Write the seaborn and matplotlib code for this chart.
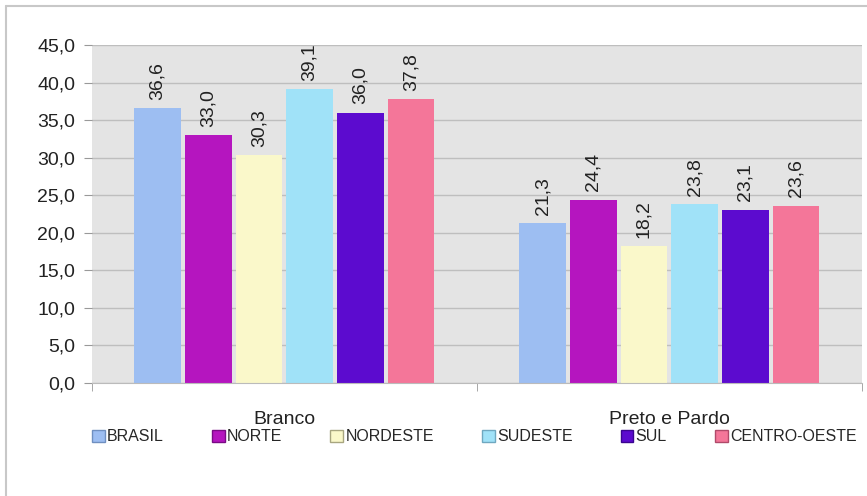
import pandas as pd
import matplotlib
matplotlib.use("Agg")
import matplotlib.pyplot as plt
from matplotlib.patches import Patch
from matplotlib.lines import Line2D
import seaborn as sns

groups = ["Branco", "Preto e Pardo"]
regions = ["BRASIL", "NORTE", "NORDESTE", "SUDESTE", "SUL", "CENTRO-OESTE"]
branco = [36.6, 33.0, 30.3, 39.1, 36.0, 37.8]
preto_pardo = [21.3, 24.4, 18.2, 23.8, 23.1, 23.6]
colors = ["#9DBEF2", "#B515BF", "#FAF8CA", "#A0E2F8", "#5C0BCF", "#F47699"]
edge_colors = ["#6F8FC0", "#7A0A85", "#A8A680", "#6FA8C0", "#3A0590", "#B04A6A"]

rows = []
for g, vals in zip(groups, [branco, preto_pardo]):
    for r, v in zip(regions, vals):
        rows.append({"grupo": g, "regiao": r, "valor": v})
df = pd.DataFrame(rows)

sns.set_style("white")
plt.rcParams["font.family"] = ["Liberation Sans", "DejaVu Sans"]

fig = plt.figure(figsize=(8.67, 4.96), dpi=100)
ax = fig.add_axes([0.106, 0.228, 0.888, 0.681])
ax.set_facecolor("#E4E4E4")

sns.barplot(data=df, x="grupo", y="valor", hue="regiao", order=groups,
            hue_order=regions, palette=colors, width=0.79, gap=0.08,
            saturation=1, legend=False, linewidth=0, ax=ax)

for cont in ax.containers:
    ax.bar_label(cont, labels=[f"{b.get_height():.1f}".replace(".", ",") for b in cont],
                 rotation=90, padding=6, fontsize=14, color="#222222")

ax.set_ylim(0, 45)
ax.set_xlim(-0.5, 1.5)
ax.set_yticks(range(0, 46, 5))
ax.set_yticklabels([f"{v:.1f}".replace(".", ",") for v in range(0, 46, 5)])
ax.yaxis.grid(True, color="#BEBEBE", lw=1)
ax.set_axisbelow(True)
ax.tick_params(axis="y", which="major", length=6, color="#999999", labelsize=14,
               labelcolor="#222222", pad=6, left=True)
ax.set_xticks([-0.5, 0.5, 1.5], minor=True)
ax.tick_params(axis="x", which="minor", length=6, color="#999999", bottom=True)
ax.tick_params(axis="x", which="major", length=0, labelsize=14, labelcolor="#222222", pad=20)
ax.set_xlabel("")
ax.set_ylabel("")
for s in ["top", "right", "left"]:
    ax.spines[s].set_visible(False)
ax.spines["bottom"].set_color("#BBBBBB")

handles = [Patch(facecolor=c, edgecolor=e, lw=1) for c, e in zip(colors, edge_colors)]
fig.legend(handles, regions, loc="center", bbox_to_anchor=(0.547, 0.119), ncol=6,
           frameon=False, fontsize=11.5, handlelength=0.8, handleheight=0.8,
           handletextpad=0.15, columnspacing=3.0)

fig.add_artist(Line2D([6 / 867, 1], [490 / 496, 490 / 496], color="#C8C8C8", lw=1.5))
fig.add_artist(Line2D([6 / 867, 6 / 867], [0, 490 / 496], color="#C8C8C8", lw=1.5))

fig.savefig("out.png", dpi=100)
